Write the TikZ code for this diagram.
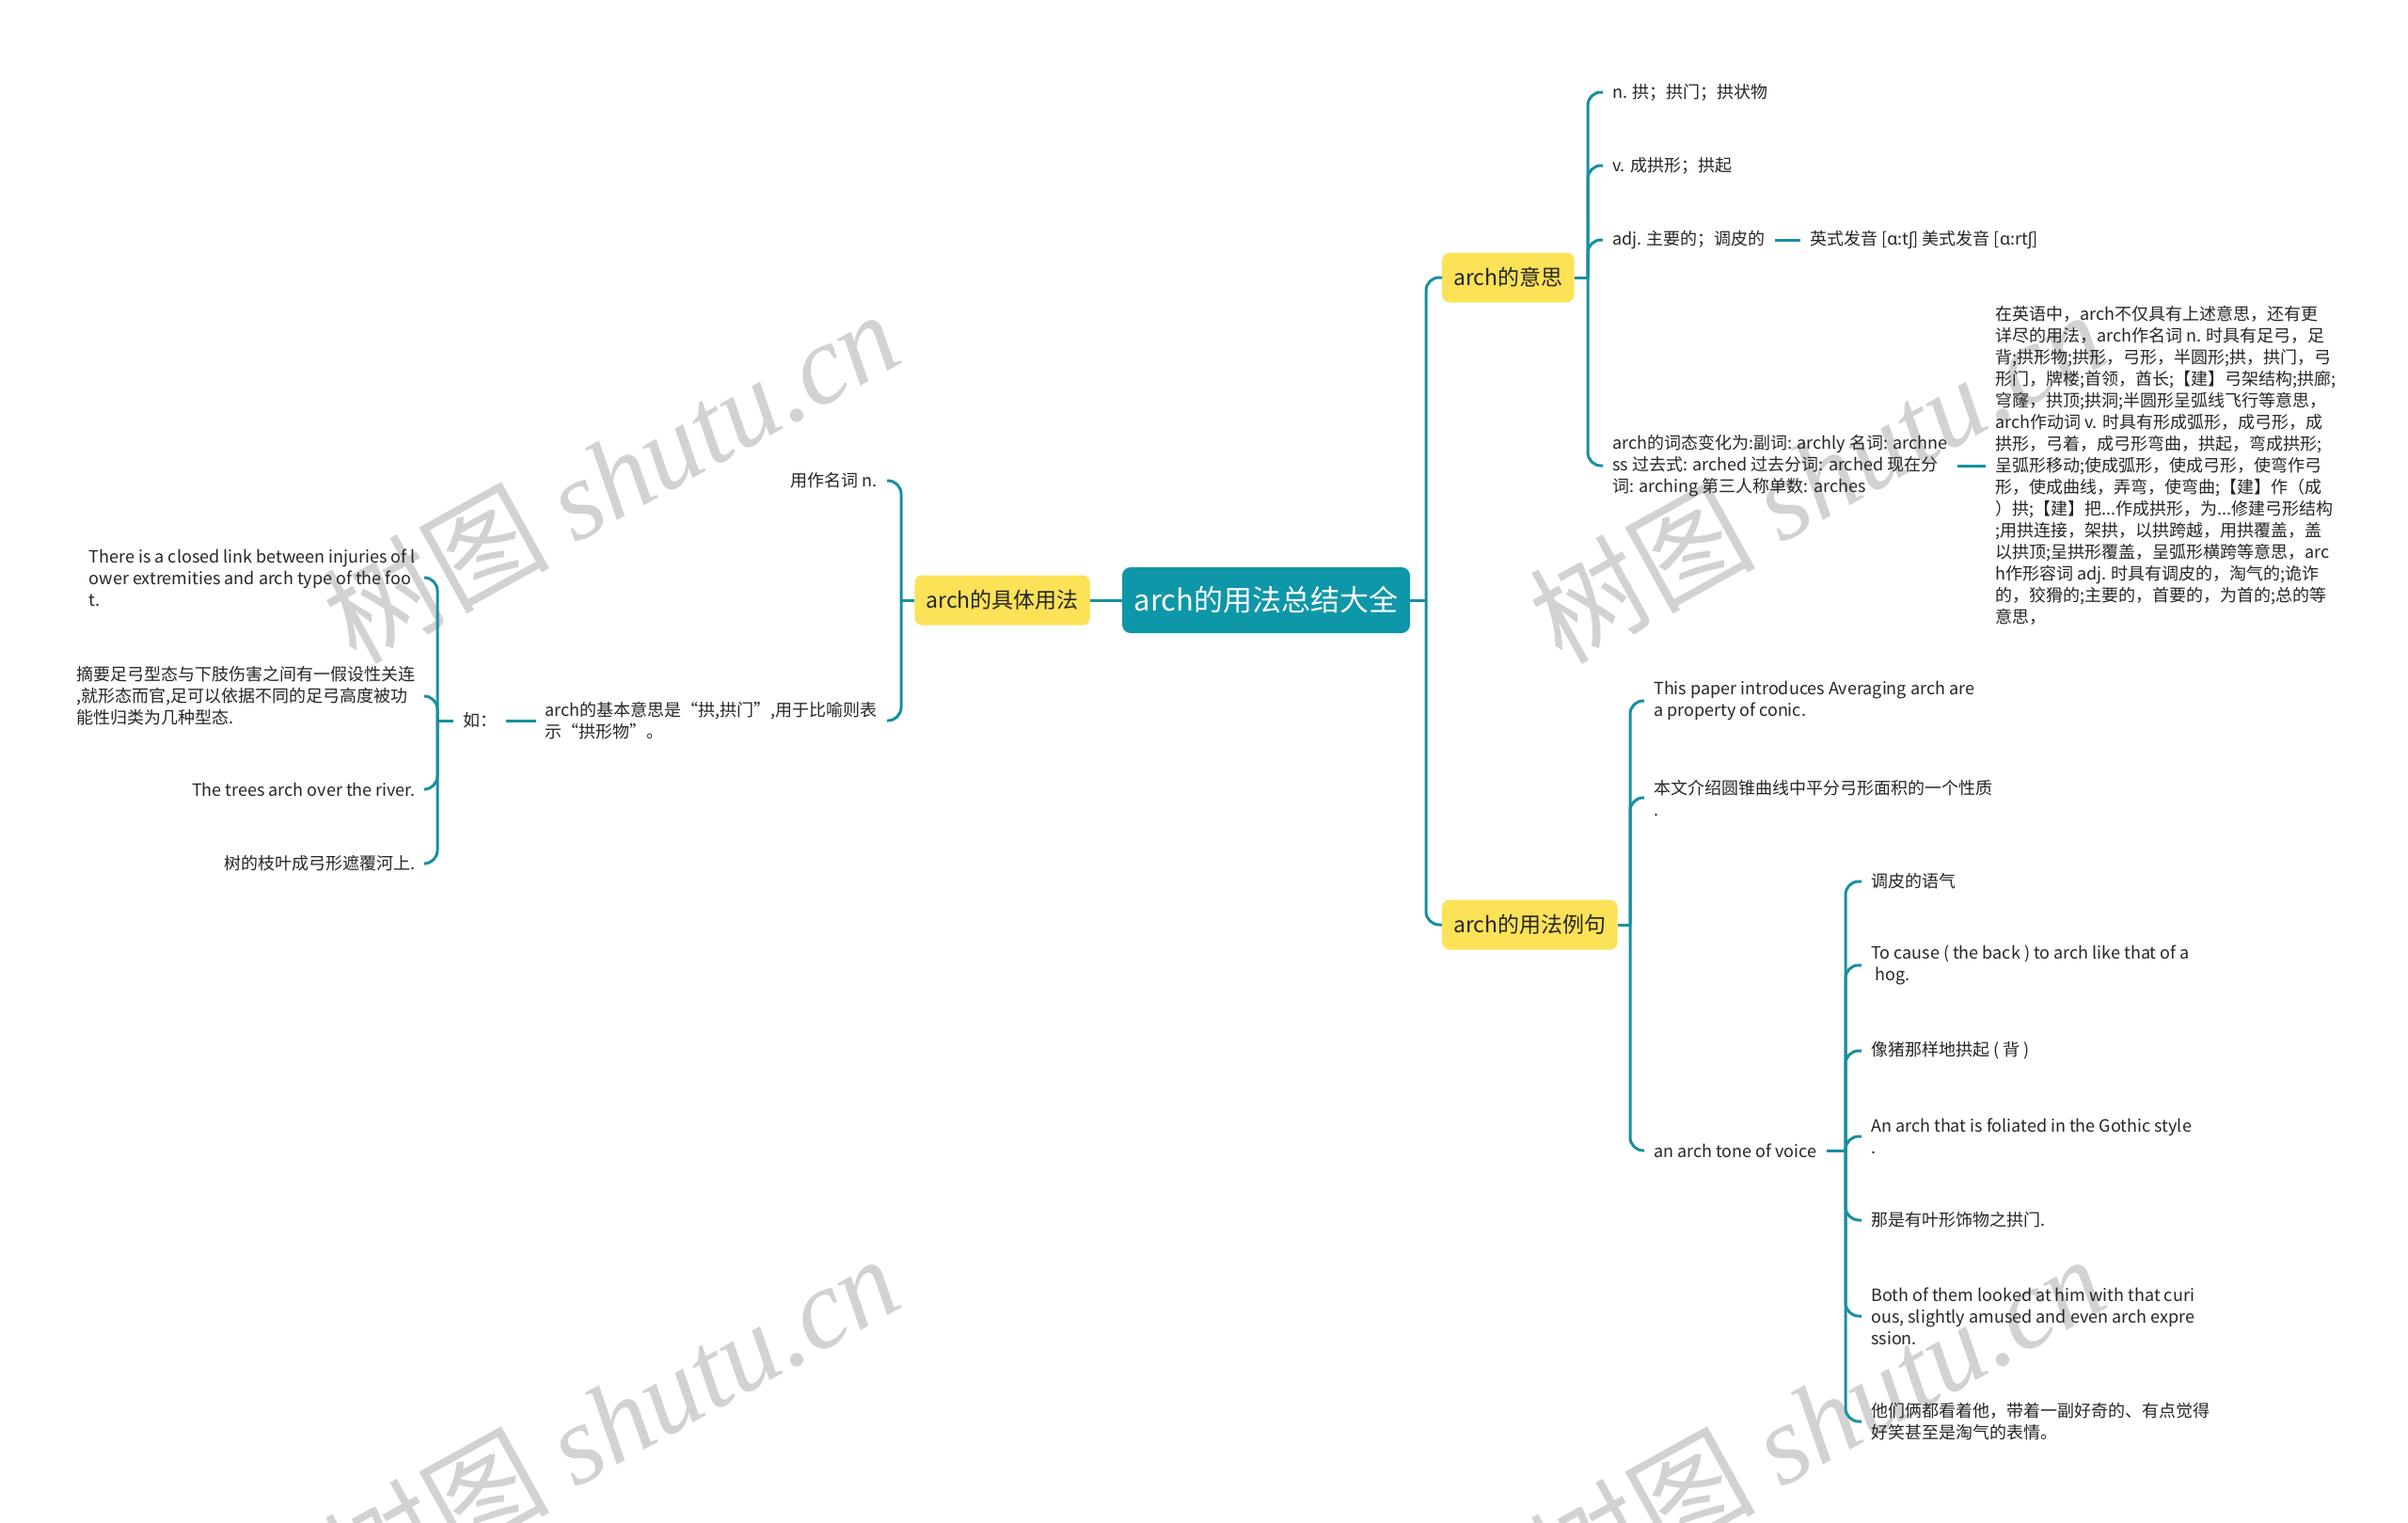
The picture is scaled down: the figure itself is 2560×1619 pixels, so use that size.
\documentclass[tikz,border=0pt]{standalone}
\usepackage{fontspec}
\setmainfont{Noto Sans CJK SC}
\newfontfamily\ipafont{Noto Sans}
\newfontfamily\wmlatin{Liberation Serif}
\definecolor{edgec}{HTML}{178FA0}
\definecolor{teal0}{HTML}{0E97A8}
\definecolor{yel}{HTML}{FCE257}
\definecolor{txtc}{HTML}{262626}
\definecolor{wmc}{HTML}{D2D2D2}
\tikzset{
  conn/.style={draw=edgec, line width=3pt, rounded corners=14pt},
  txt/.style={font=\fontsize{18}{23}\selectfont, text=txtc, inner xsep=10pt, inner ysep=2pt, align=left},
  ynode/.style={fill=yel, rounded corners=8pt, font=\fontsize{23}{28}\selectfont, text=txtc, minimum height=53pt, inner xsep=12pt},
  rootnode/.style={fill=teal0, rounded corners=9pt, font=\fontsize{31}{36}\selectfont, text=white, minimum height=70pt, minimum width=306pt},
  wm/.style={font=\fontsize{120}{120}\selectfont, text=wmc, rotate=29, inner sep=0pt, anchor=base west}
}
\begin{document}
\begin{tikzpicture}[x=1pt,y=-1pt]
\fill[white] (0,0) rectangle (2560,1619);
\useasboundingbox (0,0) rectangle (2560,1619);

% watermarks
\node[wm] (wm1) at (378,708) {树图 {\wmlatin\itshape shutu.cn}};
\node[wm] (wm2) at (1660,708) {树图 {\wmlatin\itshape shutu.cn}};
\node[wm] (wm3) at (378,1712) {树图 {\wmlatin\itshape shutu.cn}};
\node[wm] (wm4) at (1660,1712) {树图 {\wmlatin\itshape shutu.cn}};

% main nodes
\node[rootnode] (C) at (1346,638) {arch的用法总结大全};
\node[ynode, anchor=east] (L) at (1159,638) {arch的具体用法};
\node[ynode, anchor=west] (R1) at (1533,295) {arch的意思};
\node[ynode, anchor=west] (R2) at (1533,983) {arch的用法例句};

% left branch
\node[txt, anchor=east] (L1) at (943,511) {用作名词 n.};
\node[txt, anchor=east] (L2) at (943,766) {arch的基本意思是“拱,拱门”,用于比喻则表\\示“拱形物”。};
\node[txt, anchor=west] (ru) at (482,766) {如：};
\node[txt, anchor=east] (E1) at (452,614) {There is a closed link between injuries of l\\ower extremities and arch type of the foo\\t.};
\node[txt, anchor=east] (E2) at (452,740) {摘要足弓型态与下肢伤害之间有一假设性关连\\,就形态而官,足可以依据不同的足弓高度被功\\能性归类为几种型态.};
\node[txt, anchor=east] (E3) at (452,839) {The trees arch over the river.};
\node[txt, anchor=east] (E4) at (452,918) {树的枝叶成弓形遮覆河上.};

% right branch 1
\node[txt, anchor=west] (M1) at (1704,98) {n. 拱；拱门；拱状物};
\node[txt, anchor=west] (M2) at (1704,176) {v. 成拱形；拱起};
\node[txt, anchor=west] (M3) at (1704,255) {adj. 主要的；调皮的};
\node[txt, anchor=west] (M3a) at (1914,255) {英式发音 [{\ipafont ɑ}:t{\ipafont ʃ}] 美式发音 [{\ipafont ɑ}:rt{\ipafont ʃ}]};
\node[txt, anchor=west] (M4) at (1704,495) {arch的词态变化为:副词: archly 名词: archne\\ss 过去式: arched 过去分词: arched 现在分\\词: arching 第三人称单数: arches};
\node[txt, anchor=west] (M4a) at (2111,495) {在英语中，arch不仅具有上述意思，还有更\\详尽的用法，arch作名词 n. 时具有足弓，足\\背;拱形物;拱形，弓形，半圆形;拱，拱门，弓\\形门，牌楼;首领，酋长;【建】弓架结构;拱廊;\\穹窿，拱顶;拱洞;半圆形呈弧线飞行等意思，\\arch作动词 v. 时具有形成弧形，成弓形，成\\拱形，弓着，成弓形弯曲，拱起，弯成拱形;\\呈弧形移动;使成弧形，使成弓形，使弯作弓\\形，使成曲线，弄弯，使弯曲;【建】作（成\\）拱;【建】把...作成拱形，为...修建弓形结构\\;用拱连接，架拱，以拱跨越，用拱覆盖，盖\\以拱顶;呈拱形覆盖，呈弧形横跨等意思，arc\\h作形容词 adj. 时具有调皮的，淘气的;诡诈\\的，狡猾的;主要的，首要的，为首的;总的等\\意思，};

% right branch 2
\node[txt, anchor=west] (N1) at (1748,745) {This paper introduces Averaging arch are\\a property of conic.};
\node[txt, anchor=west] (N2) at (1748,848) {本文介绍圆锥曲线中平分弓形面积的一个性质\\.};
\node[txt, anchor=west] (N3) at (1748,1223) {an arch tone of voice};
\node[txt, anchor=west] (G1) at (1979,937) {调皮的语气};
\node[txt, anchor=west] (G2) at (1979,1026) {To cause ( the back ) to arch like that of a\\\hspace{0.25em}hog.};
\node[txt, anchor=west] (G3) at (1979,1117) {像猪那样地拱起 ( 背 )};
\node[txt, anchor=west] (G4) at (1979,1208) {An arch that is foliated in the Gothic style\\.};
\node[txt, anchor=west] (G5) at (1979,1297) {那是有叶形饰物之拱门.};
\node[txt, anchor=west] (G6) at (1979,1399) {Both of them looked at him with that curi\\ous, slightly amused and even arch expre\\ssion.};
\node[txt, anchor=west] (G7) at (1979,1511) {他们俩都看着他，带着一副好奇的、有点觉得\\好笑甚至是淘气的表情。};

% junctions
\coordinate (jR) at (1516,638);
\coordinate (jL) at (958,638);
\coordinate (jRu) at (465,766);
\coordinate (jM) at (1688,295);
\coordinate (jN) at (1733,983);
\coordinate (jG) at (1962,1223);

% connectors
\draw[conn] (C.west) -- (L.east);
\draw[conn] (C.east) -- (jR);
\draw[conn] (jR) |- (R1.west);
\draw[conn] (jR) |- (R2.west);

\draw[conn] (L.west) -- (jL);
\draw[conn] (jL) |- (L1.east);
\draw[conn] (jL) |- (L2.east);
\draw[conn] (L2.west) -- (ru.east);
\draw[conn] (ru.west) -- (jRu);
\draw[conn] (jRu) |- (E1.east);
\draw[conn] (jRu) |- (E2.east);
\draw[conn] (jRu) |- (E3.east);
\draw[conn] (jRu) |- (E4.east);

\draw[conn] (R1.east) -- (jM);
\draw[conn] (jM) |- (M1.west);
\draw[conn] (jM) |- (M2.west);
\draw[conn] (jM) |- (M3.west);
\draw[conn] (jM) |- (M4.west);
\draw[conn] (M3.east) -- (M3a.west);
\draw[conn] (M4.east) -- (M4a.west);

\draw[conn] (R2.east) -- (jN);
\draw[conn] (jN) |- (N1.west);
\draw[conn] (jN) |- (N2.west);
\draw[conn] (jN) |- (N3.west);
\draw[conn] (N3.east) -- (jG);
\draw[conn] (jG) |- (G1.west);
\draw[conn] (jG) |- (G2.west);
\draw[conn] (jG) |- (G3.west);
\draw[conn] (jG) |- (G4.west);
\draw[conn] (jG) |- (G5.west);
\draw[conn] (jG) |- (G6.west);
\draw[conn] (jG) |- (G7.west);
\end{tikzpicture}
\end{document}
